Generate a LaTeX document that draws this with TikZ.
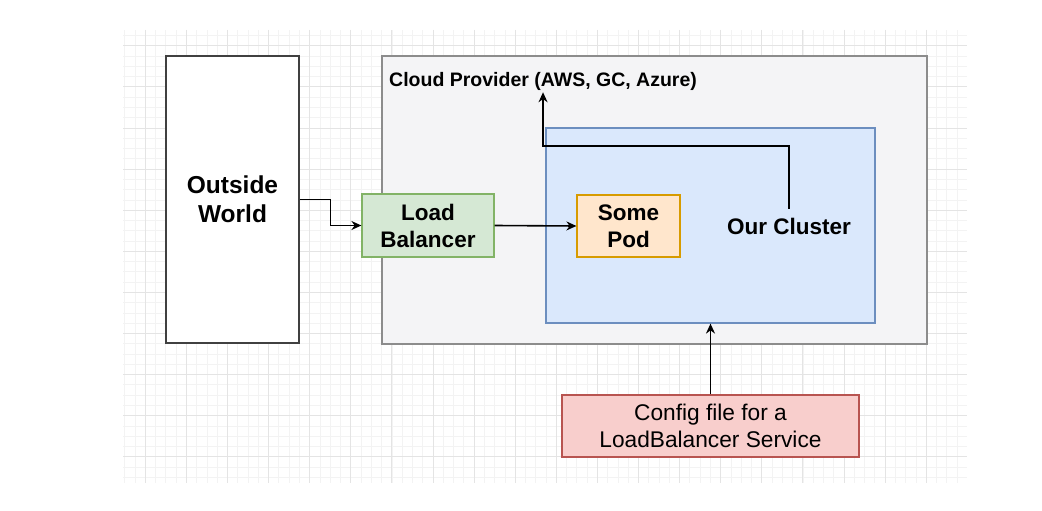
\documentclass[tikz,border=0pt]{standalone}
\usepackage{fontspec}
\setmainfont{Liberation Sans}
\usetikzlibrary{arrows.meta}

\definecolor{gridminor}{HTML}{F3F3F3}
\definecolor{gridmajor}{HTML}{E4E4E4}
\definecolor{cloudfill}{HTML}{F4F4F6}
\definecolor{cloudline}{HTML}{8C8C8C}
\definecolor{blufill}{HTML}{DAE8FC}
\definecolor{bluline}{HTML}{6C8EBF}
\definecolor{orafill}{HTML}{FFE6CC}
\definecolor{oraline}{HTML}{D79B00}
\definecolor{grnfill}{HTML}{D5E8D4}
\definecolor{grnline}{HTML}{82B366}
\definecolor{redfill}{HTML}{F8CECC}
\definecolor{redline}{HTML}{B85450}

\tikzset{
  box/.style={draw, line width=1.2pt, align=center, inner sep=0pt,
    font=\bfseries\fontsize{22.5}{27}\selectfont},
  link/.style={draw=black, line width=1.6pt, -{Stealth[length=10pt,width=9pt]}}
}

\begin{document}
\begin{tikzpicture}[x=1pt,y=-1pt]
    \useasboundingbox (0,0) rectangle (1042,511);
    % background grid
    \foreach \i in {0,...,81}
        \draw[gridminor, line width=0.8pt] ({124.75+10.275*\i},30) -- ++(0,453);
    \foreach \i in {0,...,43}
        \draw[gridminor, line width=0.8pt] (123,{35.5+10.275*\i}) -- ++(844,0);
    \foreach \i in {0,...,19}
        \draw[gridmajor, line width=1pt] ({145.3+41.1*\i},30) -- ++(0,453);
    \foreach \i in {0,...,10}
        \draw[gridmajor, line width=1pt] (123,{45.8+41.1*\i}) -- ++(844,0);

    \node[box, fill=white, draw=black!75, minimum width=133, minimum height=287, font=\bfseries\fontsize{24.5}{29}\selectfont] (world) at (232.5,199.5) {Outside\\World};
    \node[box, fill=cloudfill, draw=cloudline, minimum width=545, minimum height=288] (cloud) at (654.5,200) {};
    \node[anchor=base west, inner sep=2pt, font=\bfseries\fontsize{19.5}{23}\selectfont] (cloudlabel) at (387,86) {Cloud Provider (AWS, GC, Azure)};
    \node[box, fill=blufill, draw=bluline, minimum width=329, minimum height=195] (cluster) at (710.5,225.5) {};
    \node[font=\bfseries\fontsize{22.5}{27}\selectfont, inner xsep=1pt, inner ysep=9pt] (clusterlabel) at (789,226) {Our Cluster};
    \node[box, fill=orafill, draw=oraline, minimum width=103, minimum height=62] (pod) at (628.5,226) {Some\\Pod};
    \node[box, fill=grnfill, draw=grnline, minimum width=132, minimum height=63] (lb) at (428,225.5) {Load\\Balancer};
    \node[box, fill=redfill, draw=redline, minimum width=297, minimum height=62, font=\fontsize{22.7}{27}\selectfont] (config) at (710.5,426) {Config file for a\\LoadBalancer Service};

    \draw[link] (world.east) -- ++(31,0) |- (lb.west);
    \draw[link] (lb.east) -- (pod.west);
    \draw[link] (clusterlabel.north) -- (clusterlabel.north |- 0,146) -| (cloudlabel.south);
    \draw[link] (config.north) -- (cluster.south);
\end{tikzpicture}
\end{document}
